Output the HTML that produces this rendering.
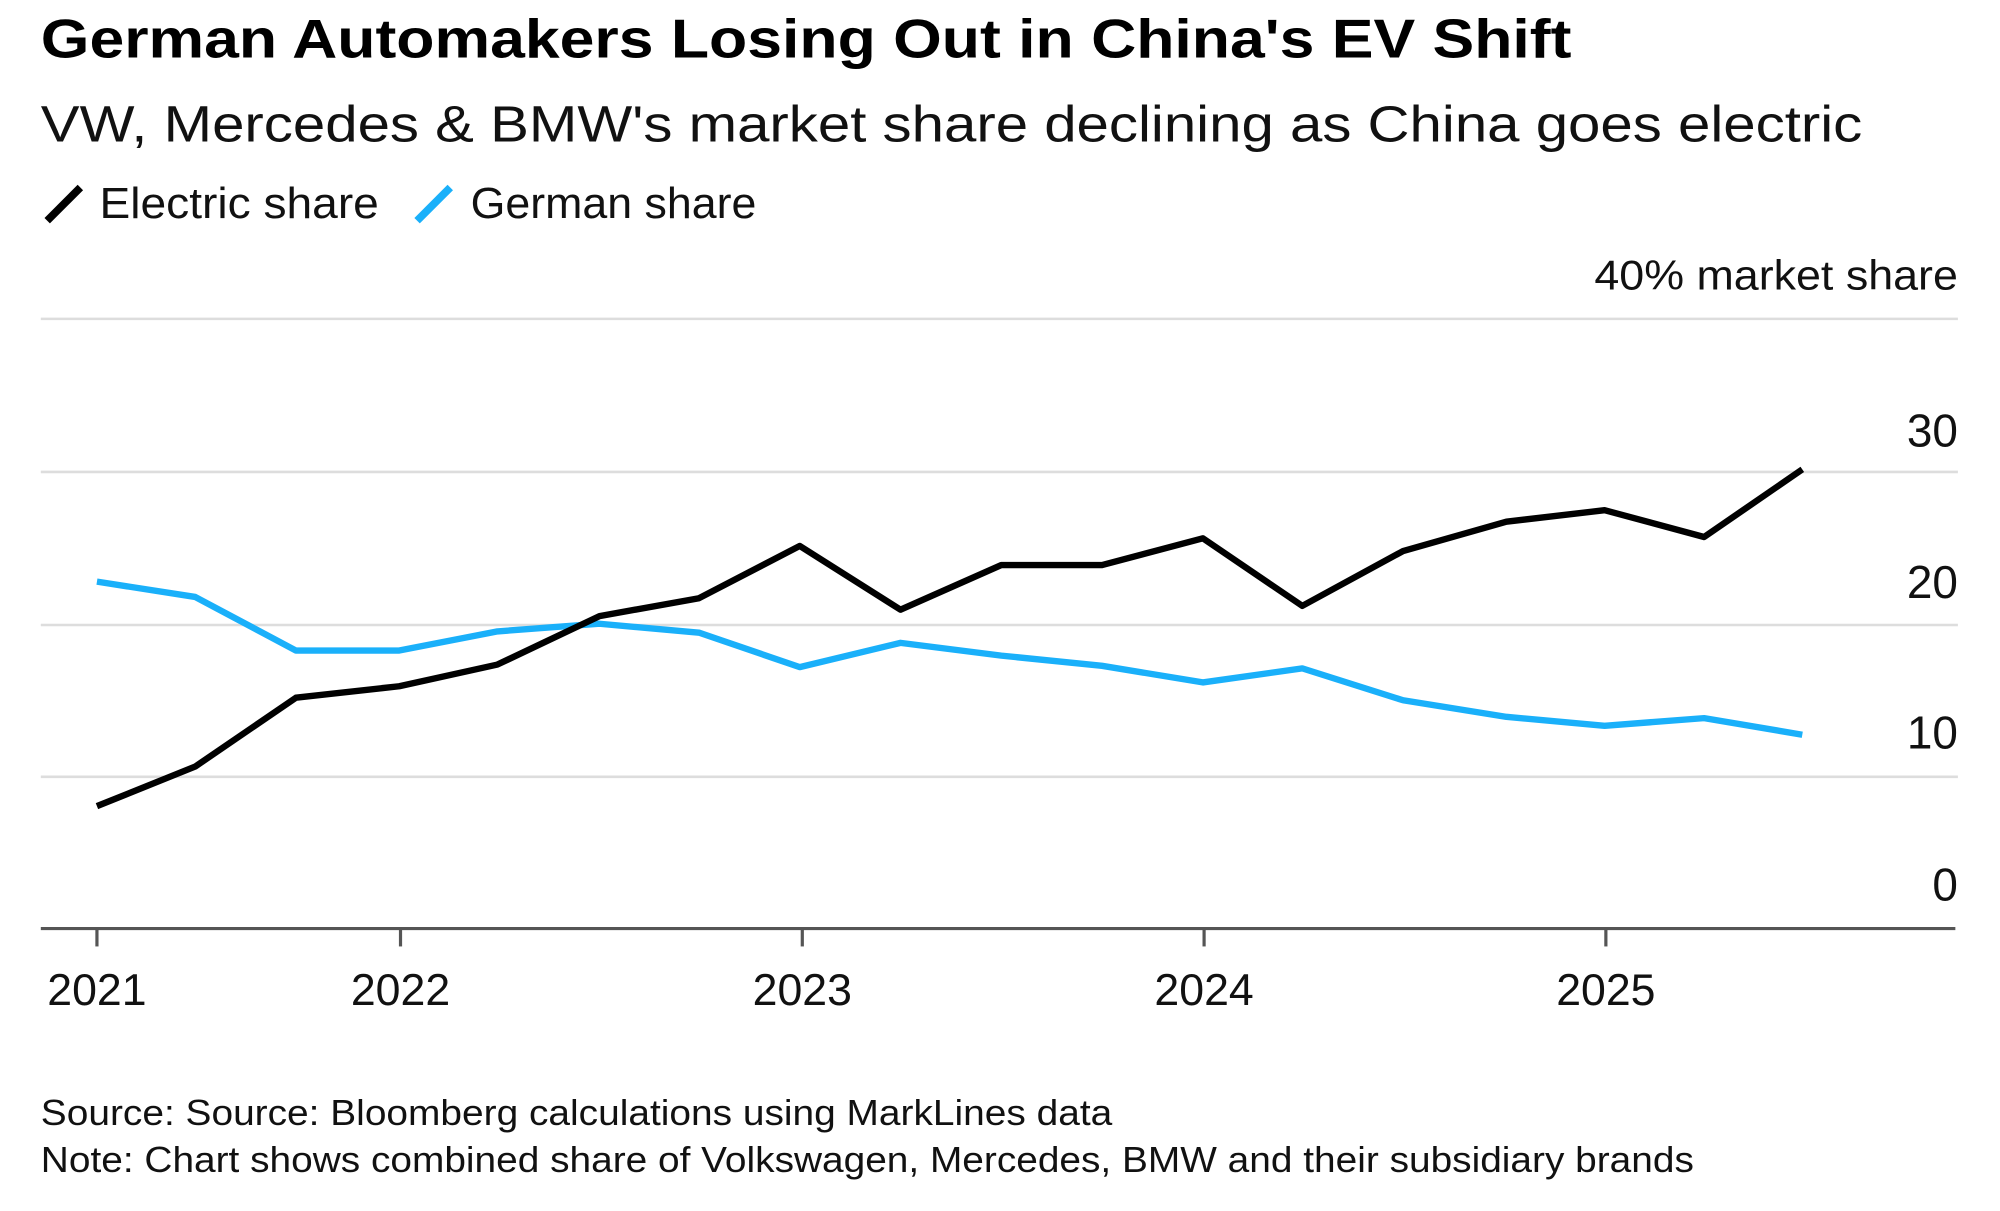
<!DOCTYPE html>
<html><head><meta charset="utf-8"><style>html,body{margin:0;padding:0;background:#fff}svg{display:block}</style></head>
<body>
<svg width="2000" height="1211" viewBox="0 0 1568 949.4" xmlns="http://www.w3.org/2000/svg" font-family="Liberation Sans, Arial, sans-serif">
<rect width="1568" height="950" fill="#fff"/>
<text x="32" y="45" font-size="43" font-weight="bold" fill="#000" textLength="1200" lengthAdjust="spacingAndGlyphs">German Automakers Losing Out in China's EV Shift</text>
<text x="32" y="111" font-size="40" fill="#111" textLength="1428" lengthAdjust="spacingAndGlyphs">VW, Mercedes &amp; BMW's market share declining as China goes electric</text>
<line x1="37" y1="173" x2="63" y2="147" stroke="#000" stroke-width="6"/>
<text x="78" y="171" font-size="34" fill="#111" textLength="219" lengthAdjust="spacingAndGlyphs">Electric share</text>
<line x1="327" y1="173" x2="353" y2="147" stroke="#1ab0fa" stroke-width="6"/>
<text x="369" y="171" font-size="34" fill="#111" textLength="224" lengthAdjust="spacingAndGlyphs">German share</text>
<text x="1535" y="227" font-size="33" fill="#111" text-anchor="end" textLength="285" lengthAdjust="spacingAndGlyphs">40% market share</text>
<g stroke="#ddd" stroke-width="2">
<line x1="32" y1="250" x2="1535" y2="250"/>
<line x1="32" y1="370" x2="1535" y2="370"/>
<line x1="32" y1="490" x2="1535" y2="490"/>
<line x1="32" y1="609" x2="1535" y2="609"/>
</g>
<g font-size="36" fill="#111" text-anchor="end">
<text x="1535" y="350">30</text>
<text x="1535" y="469">20</text>
<text x="1535" y="587">10</text>
<text x="1535" y="706">0</text>
</g>
<line x1="32" y1="728" x2="1533" y2="728" stroke="#555" stroke-width="2.5"/>
<g stroke="#555" stroke-width="2.5">
<line x1="76" y1="728" x2="76" y2="742"/>
<line x1="314" y1="728" x2="314" y2="742"/>
<line x1="629" y1="728" x2="629" y2="742"/>
<line x1="944" y1="728" x2="944" y2="742"/>
<line x1="1259" y1="728" x2="1259" y2="742"/>
</g>
<g font-size="35" fill="#111" text-anchor="middle">
<text x="76" y="788">2021</text>
<text x="314" y="788">2022</text>
<text x="629" y="788">2023</text>
<text x="944" y="788">2024</text>
<text x="1259" y="788">2025</text>
</g>
<polyline fill="none" stroke="#1ab0fa" stroke-width="5" stroke-linejoin="round" points="76,456 153,468 232,510 313,510 390,495 470,489 548,496 627,523 706,504 785,514 864,522 943,535 1021,524 1100,549 1181,562 1258,569 1336,563 1413,576"/>
<polyline fill="none" stroke="#000" stroke-width="5" stroke-linejoin="round" points="76,632 153,601 232,547 313,538 390,521 470,483 548,469 627,428 706,478 785,443 864,443 943,422 1021,475 1100,432 1181,409 1258,400 1336,421 1413,368"/>
<text x="32" y="882" font-size="28" fill="#111" textLength="840" lengthAdjust="spacingAndGlyphs">Source: Source: Bloomberg calculations using MarkLines data</text>
<text x="32" y="919" font-size="28" fill="#111" textLength="1296" lengthAdjust="spacingAndGlyphs">Note: Chart shows combined share of Volkswagen, Mercedes, BMW and their subsidiary brands</text>
</svg>
</body></html>
